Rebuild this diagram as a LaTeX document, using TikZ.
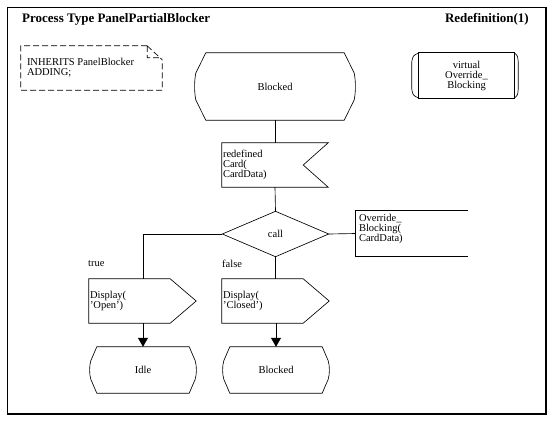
\documentclass[tikz,border=0pt]{standalone}
\usepackage{fontspec}
\setmainfont{Liberation Serif}
\usetikzlibrary{calc,arrows.meta}
\tikzset{
  sym/.style={draw=black, line width=0.65pt},
  conn/.style={draw=black, line width=0.65pt},
  box/.style={draw=none, inner sep=1pt, font=\fontsize{10.5}{10}\selectfont},
  lbl/.style={inner sep=0pt, font=\fontsize{10.5}{10}\selectfont},
  ttl/.style={inner sep=0pt, font=\fontsize{13}{13}\selectfont\bfseries},
}
\newcommand\statepath[2]{%
  \draw[sym] let \p1=(#1.north west), \p2=(#1.south east), \n1={\y1-\y2} in
    (\x1+#2,\y1) -- (\x2-#2,\y1) -- (\x2-1pt,\y1-0.3*\n1)
    .. controls (\x2+0.6pt,\y1-0.42*\n1) and (\x2+0.6pt,\y1-0.58*\n1) .. (\x2-1pt,\y2+0.3*\n1)
    -- (\x2-#2,\y2) -- (\x1+#2,\y2) -- (\x1+1pt,\y2+0.3*\n1)
    .. controls (\x1-0.6pt,\y2+0.42*\n1) and (\x1-0.6pt,\y2+0.58*\n1) .. (\x1+1pt,\y1-0.3*\n1)
    -- cycle;}
\newcommand\outpath[1]{%
  \draw[sym] let \p1=(#1.north west), \p2=(#1.south east), \p3=(#1.east) in
    (\x1,\y1) -- (\x2-26pt,\y1) -- (\x3,\y3) -- (\x2-26pt,\y2) -- (\x1,\y2) -- cycle;}
\newcommand\inpath[1]{%
  \draw[sym] let \p1=(#1.north west), \p2=(#1.south east), \p3=(#1.east) in
    (\x1,\y1) -- (\x2,\y1) -- (\x3-25pt,\y3) -- (\x2,\y2) -- (\x1,\y2) -- cycle;}
\begin{document}
\begin{tikzpicture}[x=1pt,y=-1pt]
\useasboundingbox (0,0) rectangle (553,423);
% frame
\draw[line width=0.8pt] (7,414) -- (7,7) -- (545,7);
\draw[line width=2pt] (7,414) -- (545.5,414) -- (545.5,7);
% titles
\node[ttl, anchor=west] (title) at (22,19) {Process Type PanelPartialBlocker};
\node[ttl, anchor=east] (redef) at (529,19) {Redefinition(1)};
% text symbol
\node[box, minimum width=141pt, minimum height=44pt] (txtsym) at (91.5,68) {};
\draw[sym, dashed, dash pattern=on 6pt off 3pt]
  let \p1=(txtsym.north west), \p2=(txtsym.south east) in
  (\x2-15pt,\y1) -- (\x1,\y1) -- (\x1,\y2) -- (\x2,\y2) -- (\x2,\y1-14pt)
  (\x2-15pt,\y1) -- (\x2,\y1-14pt) (\x2-15pt,\y1) -- (\x2-15pt,\y1-12pt) -- (\x2,\y1-12pt);
\node[lbl, anchor=north west, align=left] (txtsymt) at ($(txtsym.north west)+(6,12)$) {INHERITS PanelBlocker\\ADDING;};
% procedure reference
\node[box, minimum width=95pt, minimum height=45pt, align=center] (proc) at (466.5,75.5) {virtual\\Override\_\\Blocking};
\draw[sym] (proc.north west) -- (proc.north east) -- (proc.south east) -- (proc.south west) -- cycle;
\draw[sym] let \p1=(proc.north west), \p2=(proc.south west) in
  (\x1,\y1) .. controls (\x1-6pt,\y1-3pt) .. (\x1-7pt,\y1-9pt) -- (\x2-7pt,\y2+9pt) .. controls (\x2-6pt,\y2+3pt) .. (\x2,\y2);
\draw[sym] let \p1=(proc.north east), \p2=(proc.south east) in
  (\x1,\y1) .. controls (\x1+3.5pt,\y1-3pt) .. (\x1+4pt,\y1-9pt) -- (\x2+4pt,\y2+9pt) .. controls (\x2+3.5pt,\y2+3pt) .. (\x2,\y2);
% start state
\node[box, minimum width=160pt, minimum height=67pt] (blk) at (275,86.5) {Blocked};
\statepath{blk}{11pt}
% input
\node[box, minimum width=106pt, minimum height=44pt, text width=104pt, align=left] (inp) at (275,165) {redefined\\Card(\\CardData)};
\inpath{inp}
% decision
\node[box, minimum width=106pt, minimum height=45pt] (dec) at (275.5,234) {call};
\draw[sym] (dec.north) -- (dec.east) -- (dec.south) -- (dec.west) -- cycle;
% comment
\node[box, minimum width=112pt, minimum height=45pt] (cmt) at (412,233.5) {};
\draw[sym] (cmt.north east) -- (cmt.north west) -- (cmt.south west) -- (cmt.south east);
\node[lbl, anchor=north west, align=left] (cmtt) at ($(cmt.north west)+(3,3)$) {Override\_\\Blocking(\\CardData)};
% outputs
\node[box, minimum width=107pt, minimum height=44pt, text width=105pt, align=left] (outo) at (142.5,301) {Display(\\'Open')};
\outpath{outo}
\node[box, minimum width=107pt, minimum height=44pt, text width=105pt, align=left] (outc) at (275.5,301) {Display(\\'Closed')};
\outpath{outc}
% labels
\node[lbl, anchor=west] (ltrue) at (88,264) {true};
\node[lbl, anchor=west] (lfalse) at (222,264) {false};
% next states
\node[box, minimum width=106pt, minimum height=46pt] (idle) at (143,370) {Idle};
\statepath{idle}{7pt}
\node[box, minimum width=106pt, minimum height=46pt] (blk2) at (276,370) {Blocked};
\statepath{blk2}{7pt}
% connectors
\draw[conn] (blk.south) -- (inp.north);
\draw[conn] (inp.south) -- (dec.north);
\draw[conn] (dec.west) -| (outo.north -| idle.north);
\draw[conn] (dec.east) -- (cmt.west);
\draw[conn] (dec.south) -- (dec.south |- outc.north);
\draw[conn, -{Triangle[length=9pt,width=10pt]}] (outo.south -| idle.north) -- (idle.north);
\draw[conn, -{Triangle[length=9pt,width=10pt]}] (outc.south -| blk2.north) -- (blk2.north);
\end{tikzpicture}
\end{document}
